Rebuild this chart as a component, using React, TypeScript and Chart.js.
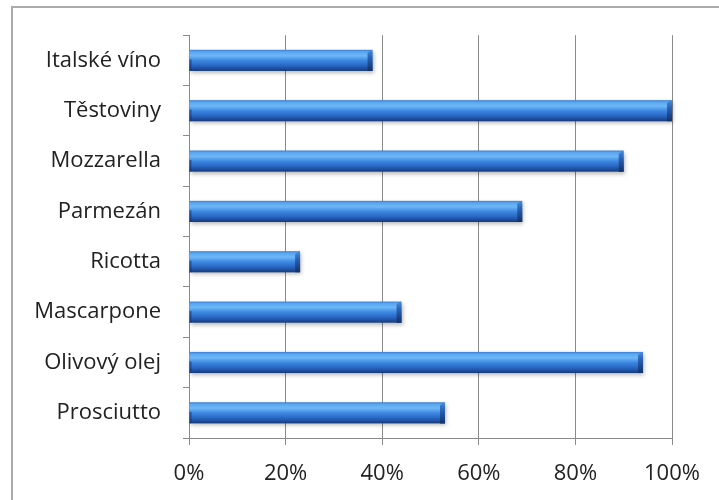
import React, { useEffect, useRef } from "react";
import { Chart, registerables } from "chart.js";

Chart.register(...registerables);

const categories = [
  "Italské víno",
  "Těstoviny",
  "Mozzarella",
  "Parmezán",
  "Ricotta",
  "Mascarpone",
  "Olivový olej",
  "Prosciutto",
];
const values = [38, 100, 90, 69, 23, 44, 94, 53];
const xTicks = [0, 20, 40, 60, 80, 100];

const FONT = "'Open Sans', Lato, sans-serif";
const GRID = "#8a8a8a";

const barPainter = {
  id: "barPainter",
  afterDatasetsDraw(chart: any) {
    const ctx = chart.ctx as CanvasRenderingContext2D;
    const meta = chart.getDatasetMeta(0);
    meta.data.forEach((bar: any) => {
      const p = bar.getProps(["x", "y", "base", "height"], true);
      const top = p.y - p.height / 2;
      const h = p.height;
      const left = Math.min(p.base, p.x);
      const right = Math.max(p.base, p.x);
      const w = right - left;
      ctx.save();
      ctx.shadowColor = "rgba(0,0,0,0.28)";
      ctx.shadowBlur = 4;
      ctx.shadowOffsetY = 2;
      ctx.shadowOffsetX = 1;
      const g = ctx.createLinearGradient(0, top, 0, top + h);
      g.addColorStop(0, "#3a7ed4");
      g.addColorStop(0.1, "#5ba7ef");
      g.addColorStop(0.28, "#6db7f7");
      g.addColorStop(0.5, "#3d89e2");
      g.addColorStop(0.75, "#2766c2");
      g.addColorStop(0.9, "#1d4c99");
      g.addColorStop(1, "#163a78");
      ctx.fillStyle = g;
      ctx.fillRect(left, top, w, h);
      ctx.restore();
      const cw = Math.min(5, w);
      ctx.save();
      const cg = ctx.createLinearGradient(0, top, 0, top + h);
      cg.addColorStop(0, "#4a8ddc");
      cg.addColorStop(0.35, "#2b64b8");
      cg.addColorStop(1, "#12306a");
      ctx.fillStyle = cg;
      ctx.beginPath();
      ctx.moveTo(right - cw, top + 3);
      ctx.lineTo(right - 1, top);
      ctx.lineTo(right, top + 2);
      ctx.lineTo(right, top + h);
      ctx.lineTo(right - cw, top + h);
      ctx.closePath();
      ctx.fill();
      ctx.fillStyle = "rgba(20,50,110,0.55)";
      ctx.fillRect(left, top + h * 0.45, 2, h * 0.55);
      ctx.restore();
    });
  },
};

export default function App() {
  const ref = useRef<HTMLCanvasElement | null>(null);
  useEffect(() => {
    if (!ref.current) return;
    const chart = new Chart(ref.current, {
      type: "bar",
      data: {
        labels: categories,
        datasets: [
          {
            data: values,
            backgroundColor: "rgba(0,0,0,0)",
            borderWidth: 0,
            barPercentage: 0.42,
            categoryPercentage: 1,
          },
        ],
      },
      plugins: [barPainter],
      options: {
        indexAxis: "y",
        responsive: false,
        animation: false,
        layout: { padding: { top: 35, right: 47, bottom: 0, left: 0 } },
        plugins: {
          legend: { display: false },
          tooltip: { enabled: false },
        },
        scales: {
          x: {
            min: 0,
            max: 100,
            afterFit: (s: any) => {
              s.height = 62;
            },
            afterBuildTicks: (s: any) => {
              s.ticks = xTicks.map((v) => ({ value: v }));
            },
            ticks: {
              callback: (v: any) => v + "%",
              font: { family: FONT, size: 22 },
              color: "#222",
              padding: 16,
              maxRotation: 0,
            },
            grid: { color: GRID, tickLength: 7, lineWidth: 1 },
            border: { display: true, color: GRID, width: 1 },
          },
          y: {
            afterFit: (s: any) => {
              s.width = 189;
            },
            ticks: {
              font: { family: FONT, size: 22 },
              color: "#222",
              padding: 22,
              autoSkip: false,
            },
            grid: {
              drawOnChartArea: false,
              drawTicks: true,
              tickLength: 6,
              color: GRID,
              offset: true,
            },
            border: { display: true, color: GRID, width: 1 },
          },
        },
      },
    });
    return () => chart.destroy();
  }, []);
  return (
    <div
      style={{
        position: "fixed",
        left: 0,
        top: 0,
        width: 719,
        height: 500,
        background: "#fff",
        overflow: "hidden",
      }}
    >
      <div
        style={{
          position: "absolute",
          left: 11,
          top: 6,
          width: 900,
          height: 700,
          borderTop: "2px solid #ababab",
          borderLeft: "2px solid #ababab",
        }}
      />
      <canvas
        ref={ref}
        width={719}
        height={500}
        style={{ position: "absolute", left: 0, top: 0 }}
      />
    </div>
  );
}
